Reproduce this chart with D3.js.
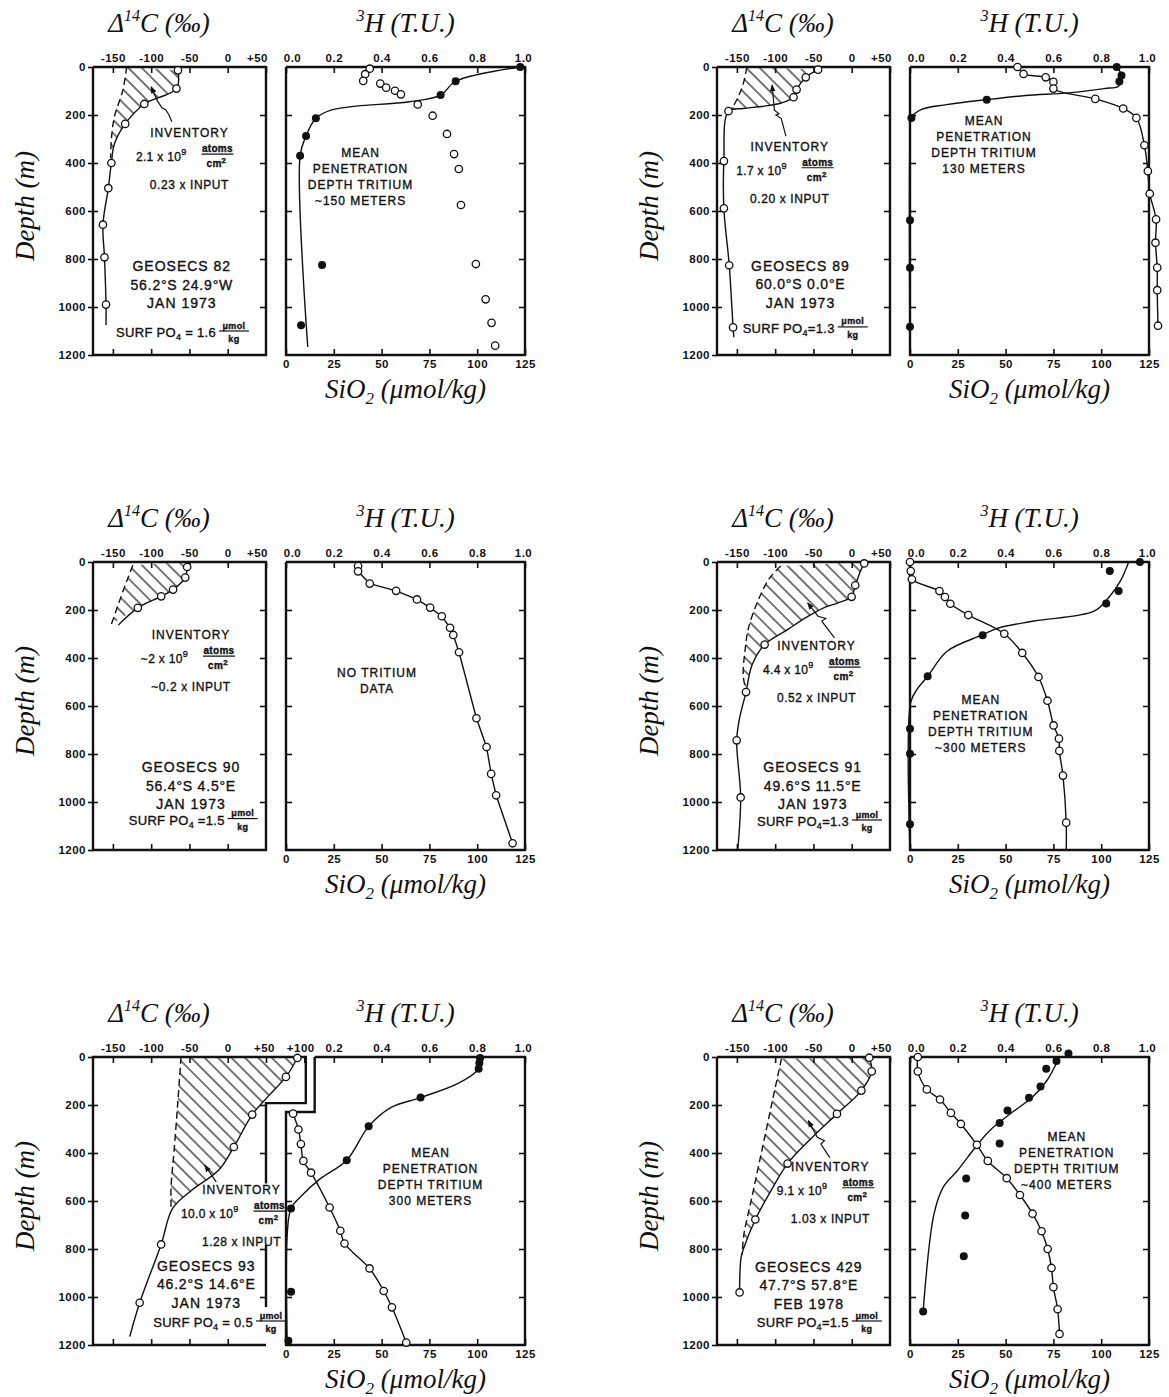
<!DOCTYPE html>
<html>
<head>
<meta charset="utf-8">
<script src="https://cdn.jsdelivr.net/npm/d3@7"></script>
<style>
  body { margin: 0; background: #fff; }
  svg { display: block; }
  .tick text { font-family: "Liberation Sans", Arial, sans-serif; font-weight: bold; font-size: 11.5px; letter-spacing: 0.5px; fill: #111; }
  .tick line { stroke: #111; stroke-width: 1.6; }
  .title { font-family: "Liberation Serif", "DejaVu Serif", serif; font-style: italic; font-size: 27px; fill: #111; }
  .note { font-family: "Liberation Sans", Arial, sans-serif; fill: #111; stroke: #111; stroke-width: 0.35px; }
</style>
</head>
<body>
<svg id="fig" width="1169" height="1397"></svg>
<script>
// ---------- axis ticks ----------
const depthTicks = [0, 200, 400, 600, 800, 1000, 1200];
const c14Ticks = [-150, -100, -50, 0, 50];
const c14TicksWide = [-150, -100, -50, 0, 50, 100];
const tritiumTicks = [0, 0.2, 0.4, 0.6, 0.8, 1.0];
const tritiumTicksNarrow = [0.2, 0.4, 0.6, 0.8, 1.0];
const silicaTicks = [0, 25, 50, 75, 100, 125];

// ---------- GEOSECS 82 ----------  [depth m, value]
const c14Obs82 = [[14,-65],[90,-67],[154,-109],[237,-134],[400,-152],[505,-156],[657,-163],[793,-161],[990,-159]];
const c14Line82 = [[14,-65],[90,-67],[154,-109],[237,-134],[320,-148],[400,-152],[505,-156],[657,-163],[793,-161],[990,-159],[1075,-159]];
const c14Pre82 = [[0,-132],[96,-137],[207,-148],[300,-152],[380,-153]];
const arrow82 = [[228,-73],[198,-77],[178,-81],[170,-86],[140,-92],[82,-100]];
const h3Obs82 = [[0,0.98],[59,0.71],[117,0.647],[214,0.125],[287,0.084],[370,0.059],[825,0.151],[1076,0.063]];
const h3Line82 = [[0,0.98],[59,0.71],[117,0.647],[145,0.515],[163,0.294],[179,0.191],[214,0.125],[287,0.084],[370,0.059],[1166,0.091]];
const siObs82 = [[7,43.8],[30,41.4],[58,40.4],[69,49.3],[86,52.4],[99,57],[114,60.1],[156,68.9],[203,76.7],[279,84.2],[363,87.9],[425,90.4],[575,91.5],[821,99.3],[968,104.4],[1066,107.5],[1161,109.4]];

// ---------- GEOSECS 89 ----------
const c14Obs89 = [[11,-44],[43,-60],[94,-72],[126,-76],[184,-161],[392,-167],[589,-167],[826,-160],[1085,-155]];
const c14Line89 = [[11,-44],[43,-60],[94,-72],[126,-76],[150,-92],[163,-114],[173,-142],[184,-161],[392,-167],[589,-167],[826,-160],[1085,-155],[1126,-154]];
const c14Pre89 = [[0,-137],[73,-142],[129,-149],[168,-156],[184,-161]];
const arrow89 = [[288,-86],[215,-92],[200,-99],[195,-95],[180,-101],[75,-104]];
const h3Obs89 = [[0,0.865],[35,0.885],[60,0.876],[136,0.321],[212,0.006],[639,0],[836,0],[1082,0]];
const h3Line89 = [[0,0.865],[35,0.885],[60,0.876],[80,0.873],[90,0.813],[108,0.663],[119,0.483],[136,0.321],[157,0.153],[177,0.048],[212,0.006],[300,0],[1200,0]];
const siObs89 = [[0,56.2],[29,59.4],[43,71],[62,75],[90,75],[133,96.9],[173,111.5],[212,118.4],[326,122.6],[434,124.4],[528,125.4],[635,128.7],[732,128.4],[836,129.3],[930,129.3],[1078,129.7]];

// ---------- GEOSECS 90 ----------
const c14Obs90 = [[21,-53],[65,-55.5],[115,-71.4],[143,-86.9],[191,-117.4]];
const c14Line90 = [[0,-52],[21,-53],[65,-55.5],[115,-71.4],[143,-86.9],[191,-117.4],[263,-143]];
const c14Pre90 = [[14,-124],[76,-131.5],[159,-141],[242,-150],[259,-152]];
const siObs90 = [[17,37.7],[39,37.7],[90,43.8],[120,57.6],[156,68.5],[190,75.4],[226,81.5],[274,85.8],[304,87.5],[376,90.5],[651,99.6],[771,104.9],[883,107.3],[972,109.9],[1172,118.5]];

// ---------- GEOSECS 91 ----------
const c14Obs91 = [[6,16.3],[97,4.6],[145,-0.1],[344,-113.8],[542,-138.1],[743,-150.3],[981,-145.1]];
const c14Line91 = [[0,19.6],[6,16.3],[97,4.6],[145,-0.1],[170,-17.8],[191,-36.6],[232,-60],[281,-83.4],[344,-113.8],[428,-130.1],[542,-138.1],[651,-146.5],[743,-150.3],[981,-145.1],[1200,-148.9]];
const c14Pre91 = [[17,-92.7],[65,-106.8],[149,-120.8],[274,-134.8],[372,-139.5],[469,-141.8],[525,-139]];
const arrow91 = [[316,-22.5],[260,-36],[246,-39],[235,-34],[226,-44],[170,-57.6]];
const h3Obs91 = [[0,0.962],[38,0.836],[121,0.873],[173,0.821],[305,0.304],[476,0.074],[695,0],[799,0],[1093,0]];
const h3Line91 = [[0,0.915],[80,0.88],[150,0.83],[205,0.77],[246,0.52],[275,0.37],[305,0.30],[372,0.155],[476,0.074],[530,0.03],[585,0.003],[1200,0]];
const siObs91 = [[0,0],[38,0.4],[72,1],[121,15.4],[146,18.3],[174,21.1],[221,30.5],[299,49.3],[379,58.7],[479,67.2],[578,71.9],[681,75.1],[736,77.9],[787,78.1],[890,80],[1086,81.7]];
const siLine91 = siObs91.concat([[1200,81.7]]);

// ---------- GEOSECS 93 ----------
const c14Obs93 = [[4,91],[83,76],[240,32],[375,8],[781,-87],[1024,-115]];
const c14Line93 = [[4,91],[83,76],[160,54],[240,32],[375,8],[472,-12],[555,-47],[631,-72],[781,-87],[1024,-115],[1165,-128]];
const c14Pre93 = [[0,-61],[180,-65],[388,-70],[541,-74],[628,-74]];
const arrow93 = [[520,-15],[451,-30]];
const h3Obs93 = [[4,0.812],[25,0.809],[49,0.806],[169,0.563],[289,0.346],[430,0.254],[631,0.021],[978,0.021],[1182,0.01]];
const h3Line93 = [[0,0.815],[49,0.806],[110,0.72],[169,0.563],[210,0.44],[289,0.346],[430,0.254],[510,0.14],[580,0.063],[631,0.021],[740,0.005],[1200,0.005]];
const siObs93 = [[236,3.7],[302,6.5],[363,7.8],[433,9.1],[482,13.1],[627,22.8],[724,28.4],[777,30.6],[881,43.7],[975,51.1],[1043,55.4],[1190,62.9]];

// ---------- GEOSECS 429 ----------
const c14Obs429 = [[3,22.9],[60,26.1],[140,12.6],[237,-19.3],[444,-83.8],[677,-125.9],[981,-146.5]];
const c14Line429 = [[3,22.9],[60,26.1],[140,12.6],[237,-19.3],[330,-50],[444,-83.8],[560,-106],[677,-125.9],[795,-140.9],[837,-144.6],[981,-146.5]];
const c14Pre429 = [[7,-91.8],[181,-103.5],[391,-117.5],[600,-131.5],[740,-140.9],[823,-143.2]];
const arrow429 = [[419,-28.6],[363,-40.3],[349,-35.7],[335,-45],[265,-56.7]];
const h3Obs429 = [[-15,0.663],[17,0.613],[49,0.570],[123,0.546],[170,0.498],[223,0.408],[275,0.375],[360,0.375],[506,0.235],[660,0.231],[830,0.225],[1060,0.055]];
const h3Line429 = [[0,0.625],[98,0.573],[167,0.513],[223,0.438],[307,0.333],[377,0.273],[474,0.198],[544,0.138],[656,0.100],[1060,0.055]];
const siObs429 = [[0,4.1],[60,4.1],[135,8.8],[177,15.7],[233,21.4],[279,26.6],[366,35],[433,40.7],[505,50.6],[575,57.5],[653,64.1],[726,68.8],[800,72],[879,74],[959,75],[1051,77.2],[1154,78.2]];

// ---------- station texts ----------
const stationNames = ["GEOSECS 82", "GEOSECS 89", "GEOSECS 90", "GEOSECS 91", "GEOSECS 93", "GEOSECS 429"];
const stationPositions = ["56.2°S 24.9°W", "60.0°S 0.0°E", "56.4°S 4.5°E", "49.6°S 11.5°E", "46.2°S 14.6°E", "47.7°S 57.8°E"];
const stationDates = ["JAN 1973", "JAN 1973", "JAN 1973", "JAN 1973", "JAN 1973", "FEB 1978"];
const surfPO4 = ["1.6", "1.3", "1.5", "1.3", "0.5", "1.5"];
const surfPO4Sign = [" = ", "=", " =", "=", " = ", "="];
const inventoryAmount = ["2.1", "1.7", "~2", "4.4", "10.0", "9.1"];
const inventoryShare = ["0.23 x INPUT", "0.20 x INPUT", "~0.2 x INPUT", "0.52 x INPUT", "1.28 x INPUT", "1.03 x INPUT"];
const tritiumNotes = [
  ["MEAN", "PENETRATION", "DEPTH TRITIUM", "~150 METERS"],
  ["MEAN", "PENETRATION", "DEPTH TRITIUM", "130 METERS"],
  ["NO TRITIUM", "DATA"],
  ["MEAN", "PENETRATION", "DEPTH TRITIUM", "~300 METERS"],
  ["MEAN", "PENETRATION", "DEPTH TRITIUM", "300 METERS"],
  ["MEAN", "PENETRATION", "DEPTH TRITIUM", "~400 METERS"]
];

// ---------- layout ----------
const COL_X = [0, 624];
const ROW_Y = [67, 562, 1057];
const C_L = 93, C_R = 266, T_L = 286, T_R = 525, FH = 288;
const C_DOMAIN = [-176, 50];

const panels = [
  { col: 0, row: 0, c14Obs: c14Obs82, c14Line: c14Line82, c14Pre: c14Pre82, arrow: arrow82,
    h3Obs: h3Obs82, h3Line: h3Line82, siObs: siObs82, siLine: null,
    invAt: [-50, 292], stationAt: [-60, 850], surfAt: [-11.5, 1125], noteAt: [39, 374] },
  { col: 1, row: 0, c14Obs: c14Obs89, c14Line: c14Line89, c14Pre: c14Pre89, arrow: arrow89,
    h3Obs: h3Obs89, h3Line: h3Line89, siObs: siObs89, siLine: siObs89,
    invAt: [-81, 349], stationAt: [-67, 849], surfAt: [-18.3, 1108], noteAt: [38.7, 240] },
  { col: 0, row: 1, c14Obs: c14Obs90, c14Line: c14Line90, c14Pre: c14Pre90, arrow: null,
    h3Obs: null, h3Line: null, siObs: siObs90, siLine: siObs90, siLinear: true,
    invAt: [-48, 321], stationAt: [-48, 877], surfAt: [0, 1094], noteAt: [47.6, 478] },
  { col: 1, row: 1, c14Obs: c14Obs91, c14Line: c14Line91, c14Pre: c14Pre91, arrow: arrow91,
    h3Obs: h3Obs91, h3Line: h3Line91, siObs: siObs91, siLine: siLine91,
    invAt: [-46, 367], stationAt: [-51, 875], surfAt: [0.4, 1100], noteAt: [37, 592] },
  { col: 0, row: 2, c14Obs: c14Obs93, c14Line: c14Line93, c14Pre: c14Pre93, arrow: arrow93,
    h3Obs: h3Obs93, h3Line: h3Line93, siObs: siObs93, siLine: siObs93,
    invAt: [18, 571], stationAt: [-28, 890], surfAt: [37, 1125], noteAt: [75.6, 415],
    c14TickValues: c14TicksWide, tTickValues: tritiumTicksNarrow,
    // stepped frames: [depth, value] polylines
    c14Frame: [[[1200,50],[1200,-176],[0,-176],[0,102],[192,102],[192,50],[527,50]], [[783,50],[1042,50]]],
    c14RightRanges: [[192,527],[783,1042]],
    h3Frame: [[[0,15],[0,125],[1200,125],[1200,0],[229,0],[229,15],[0,15]]],
    h3LeftRanges: [[229,1200]] },
  { col: 1, row: 2, c14Obs: c14Obs429, c14Line: c14Line429, c14Pre: c14Pre429, arrow: arrow429,
    h3Obs: h3Obs429, h3Line: h3Line429, siObs: siObs429, siLine: siObs429,
    invAt: [-28, 474], stationAt: [-56, 894], surfAt: [0.1, 1125], noteAt: [82, 349] }
];

const svg = d3.select("#fig");
const defs = svg.append("defs");
const pat = defs.append("pattern").attr("id", "hatch")
  .attr("patternUnits", "userSpaceOnUse").attr("width", 9.5).attr("height", 9.5)
  .attr("patternTransform", "rotate(-45)");
pat.append("line").attr("x1", 4.75).attr("y1", -1).attr("x2", 4.75).attr("y2", 10.5)
  .attr("stroke", "#111").attr("stroke-width", 1.15);
defs.append("marker").attr("id", "arrowHead").attr("viewBox", "0 0 10 10")
  .attr("refX", 9).attr("refY", 5).attr("markerWidth", 6).attr("markerHeight", 6)
  .attr("orient", "auto")
  .append("path").attr("d", "M0,1 L10,5 L0,9 Z").attr("fill", "#111");

const fmtC = d => d > 0 ? "+" + d : String(d);
const inside = (d, ranges) => ranges.some(r => d >= r[0] && d <= r[1]);
const LINE_GAP = 18.5;

function noteText(g, x, y, str, size, spacing, anchor) {
  return g.append("text").attr("class", "note").attr("x", x).attr("y", y)
    .attr("font-size", size).attr("letter-spacing", spacing)
    .attr("text-anchor", anchor || "middle").text(str);
}

function drawPanel(p, i) {
  const ox = COL_X[p.col], oy = ROW_Y[p.row];
  const g = svg.append("g");
  const y = d3.scaleLinear().domain([0, 1200]).range([oy, oy + FH]);
  const xC = d3.scaleLinear().domain(C_DOMAIN).range([ox + C_L, ox + C_R]);
  const xSi = d3.scaleLinear().domain([0, 125]).range([ox + T_L, ox + T_R]);
  const xT = d3.scaleLinear().domain([0, 1]).range([ox + T_L, ox + T_R]);

  const lineC = d3.line().x(d => xC(d[1])).y(d => y(d[0])).curve(d3.curveCatmullRom.alpha(0.5));
  const lineT = d3.line().x(d => xT(d[1])).y(d => y(d[0])).curve(d3.curveCatmullRom.alpha(0.5));
  const lineSi = d3.line().x(d => xSi(d[1])).y(d => y(d[0]))
    .curve(p.siLinear ? d3.curveLinear : d3.curveCatmullRom.alpha(0.5));
  const poly = (sx) => d3.line().x(d => sx(d[1])).y(d => y(d[0]));

  // ---- frames ----
  const c14Frame = p.c14Frame || [[[0, C_DOMAIN[0]], [0, C_DOMAIN[1]], [1200, C_DOMAIN[1]], [1200, C_DOMAIN[0]], [0, C_DOMAIN[0]]]];
  const h3Frame = p.h3Frame || [[[0, 0], [0, 125], [1200, 125], [1200, 0], [0, 0]]];
  c14Frame.forEach(seg => g.append("path").attr("d", poly(xC)(seg)).attr("fill", "none")
    .attr("stroke", "#111").attr("stroke-width", 2.4).attr("stroke-linejoin", "miter"));
  h3Frame.forEach(seg => g.append("path").attr("d", poly(xSi)(seg)).attr("fill", "none")
    .attr("stroke", "#111").attr("stroke-width", 2.4).attr("stroke-linejoin", "miter"));

  const noDomain = s => s.select(".domain").remove();
  const inner = [200, 400, 600, 800, 1000];

  // Δ14C axes (edge labels sit slightly inside the frame corners)
  g.append("g").attr("transform", `translate(0,${y(0)})`)
    .call(d3.axisTop(xC).tickValues(p.c14TickValues || c14Ticks).tickSize(-6).tickPadding(5).tickFormat(fmtC))
    .call(noDomain)
    .call(s => s.selectAll(".tick text").attr("dx", d => d === 50 ? (p.c14TickValues ? -2 : -9) : d === 100 ? -4 : 0));
  g.append("g").attr("transform", `translate(0,${y(1200)})`)
    .call(d3.axisBottom(xC).tickValues([-150, -100, -50, 0]).tickSize(-6).tickFormat(() => ""))
    .call(noDomain);
  g.append("g").attr("transform", `translate(${xC(C_DOMAIN[0])},0)`)
    .call(d3.axisLeft(y).tickValues(depthTicks).tickSize(5).tickPadding(2).tickFormat(d3.format("d")))
    .call(noDomain);
  g.append("g").attr("transform", `translate(${xC(C_DOMAIN[0])},0)`)
    .call(d3.axisLeft(y).tickValues(inner).tickSize(-5).tickFormat(() => ""))
    .call(noDomain);
  g.append("g").attr("transform", `translate(${xC(C_DOMAIN[1])},0)`)
    .call(d3.axisRight(y).tickValues(p.c14RightRanges ? inner.filter(d => inside(d, p.c14RightRanges)) : inner)
      .tickSize(-6).tickFormat(() => ""))
    .call(noDomain);

  // tritium / silicate axes
  g.append("g").attr("transform", `translate(0,${y(0)})`)
    .call(d3.axisTop(xT).tickValues(p.tTickValues || tritiumTicks).tickSize(-6).tickPadding(5).tickFormat(d3.format(".1f")))
    .call(noDomain)
    .call(s => s.selectAll(".tick text").attr("dx", d => d === 0 ? 6 : d === 1 ? -2 : 0));
  g.append("g").attr("transform", `translate(0,${y(1200)})`)
    .call(d3.axisBottom(xSi).tickValues(silicaTicks).tickSize(-6).tickPadding(5))
    .call(noDomain);
  g.append("g").attr("transform", `translate(${xSi(0)},0)`)
    .call(d3.axisLeft(y).tickValues(p.h3LeftRanges ? inner.filter(d => inside(d, p.h3LeftRanges)) : inner)
      .tickSize(-6).tickFormat(() => ""))
    .call(noDomain);
  g.append("g").attr("transform", `translate(${xSi(125)},0)`)
    .call(d3.axisRight(y).tickValues(inner).tickSize(-6).tickFormat(() => ""))
    .call(noDomain);

  // ---- titles ----
  const tC = g.append("text").attr("class", "title").attr("x", ox + C_L + 66).attr("y", oy - 35).attr("text-anchor", "middle");
  tC.append("tspan").text("Δ");
  tC.append("tspan").attr("dy", -11).attr("font-size", 16).text("14");
  tC.append("tspan").attr("dy", 11).text("C (‰)");

  const tH = g.append("text").attr("class", "title").attr("x", ox + (T_L + T_R) / 2).attr("y", oy - 35).attr("text-anchor", "middle");
  tH.append("tspan").attr("dy", -11).attr("font-size", 16).text("3");
  tH.append("tspan").attr("dy", 11).text("H (T.U.)");

  g.append("text").attr("class", "title").attr("text-anchor", "middle")
    .attr("transform", `translate(${ox + C_L - 59},${oy + 139}) rotate(-90)`).text("Depth (m)");

  const tS = g.append("text").attr("class", "title").attr("x", ox + (T_L + T_R) / 2).attr("y", oy + FH + 43).attr("text-anchor", "middle");
  tS.append("tspan").text("SiO");
  tS.append("tspan").attr("dy", 6).attr("font-size", 17).text("2");
  tS.append("tspan").attr("dy", -6).text(" (μmol/kg)");

  // ---- Δ14C: bomb-carbon inventory between measured and pre-bomb profiles ----
  const preEnd = p.c14Pre[p.c14Pre.length - 1][0];
  const solidPart = p.c14Line.filter(d => d[0] <= preEnd);
  const hatchPath = lineC(solidPart) + lineC(p.c14Pre.slice().reverse()).replace(/^M/, "L") + "Z";
  g.append("path").attr("d", hatchPath).attr("fill", "url(#hatch)").attr("stroke", "none");

  g.append("path").attr("d", lineC(p.c14Pre)).attr("fill", "none").attr("stroke", "#111")
    .attr("stroke-width", 1.4).attr("stroke-dasharray", "7,4");
  g.append("path").attr("d", lineC(p.c14Line)).attr("fill", "none").attr("stroke", "#111").attr("stroke-width", 1.4);
  g.selectAll(null).data(p.c14Obs).join("circle")
    .attr("cx", d => xC(d[1])).attr("cy", d => y(d[0])).attr("r", 3.7)
    .attr("fill", "#fff").attr("stroke", "#111").attr("stroke-width", 1.3);

  if (p.arrow) {
    g.append("path").attr("d", poly(xC)(p.arrow)).attr("fill", "none").attr("stroke", "#111")
      .attr("stroke-width", 1.2).attr("marker-end", "url(#arrowHead)");
  }

  // ---- tritium and silicate ----
  if (p.siLine) {
    g.append("path").attr("d", lineSi(p.siLine)).attr("fill", "none").attr("stroke", "#111").attr("stroke-width", 1.4);
  }
  if (p.h3Line) {
    g.append("path").attr("d", lineT(p.h3Line)).attr("fill", "none").attr("stroke", "#111").attr("stroke-width", 1.4);
  }
  g.selectAll(null).data(p.siObs).join("circle")
    .attr("cx", d => xSi(d[1])).attr("cy", d => y(d[0])).attr("r", 3.7)
    .attr("fill", "#fff").attr("stroke", "#111").attr("stroke-width", 1.3);
  if (p.h3Obs) {
    g.selectAll(null).data(p.h3Obs).join("circle")
      .attr("cx", d => xT(d[1])).attr("cy", d => y(d[0])).attr("r", 4).attr("fill", "#111");
  }

  // ---- annotations ----
  // inventory
  const ix = xC(p.invAt[0]), iy = y(p.invAt[1]);
  noteText(g, ix, iy, "INVENTORY", 12, 1);
  const amt = noteText(g, ix - 3, iy + 24, inventoryAmount[i] + " x 10", 12, 0.3, "end");
  amt.append("tspan").attr("dy", -6).attr("font-size", 9).text("9");
  g.append("line").attr("x1", ix + 12).attr("x2", ix + 44).attr("y1", iy + 17).attr("y2", iy + 17)
    .attr("stroke", "#111").attr("stroke-width", 1.2);
  noteText(g, ix + 28, iy + 15, "atoms", 10, 0.3).attr("font-weight", "bold").attr("stroke-width", 0);
  const cm = noteText(g, ix + 27, iy + 30, "cm", 10, 0.3).attr("font-weight", "bold").attr("stroke-width", 0);
  cm.append("tspan").attr("dy", -4).attr("font-size", 8).text("2");
  noteText(g, ix, iy + 52, inventoryShare[i], 12, 0.6);

  // station block
  const sx = xC(p.stationAt[0]), sy = y(p.stationAt[1]);
  noteText(g, sx, sy, stationNames[i], 14, 1);
  noteText(g, sx, sy + LINE_GAP, stationPositions[i], 14, 0.8);
  noteText(g, sx, sy + 2 * LINE_GAP, stationDates[i], 14, 1);

  // surface phosphate
  const px = xC(p.surfAt[0]), py = y(p.surfAt[1]);
  const po = noteText(g, px - 3, py, "SURF PO", 13, 0.3, "end");
  po.append("tspan").attr("dy", 3).attr("font-size", 9).text("4");
  po.append("tspan").attr("dy", -3).text(surfPO4Sign[i] + surfPO4[i]);
  g.append("line").attr("x1", px).attr("x2", px + 30).attr("y1", py - 6).attr("y2", py - 6)
    .attr("stroke", "#111").attr("stroke-width", 1.2);
  noteText(g, px + 15, py - 8.5, "μmol", 9, 0.3).attr("font-weight", "bold").attr("stroke-width", 0);
  noteText(g, px + 15, py + 5, "kg", 9, 0.3).attr("font-weight", "bold").attr("stroke-width", 0);

  // tritium note
  const nx = xSi(p.noteAt[0]), ny = y(p.noteAt[1]);
  tritiumNotes[i].forEach((s, k) => noteText(g, nx, ny + k * 16, s, 12, 1));
}

panels.forEach(drawPanel);
</script>
</body>
</html>
